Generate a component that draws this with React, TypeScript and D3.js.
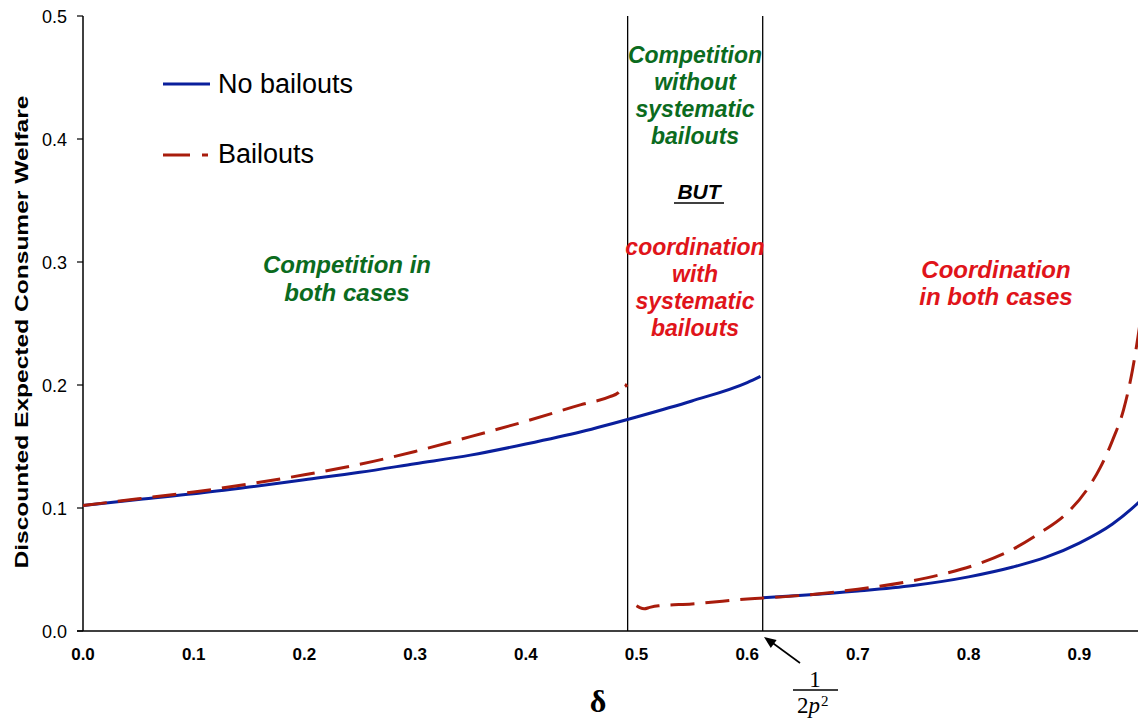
import React, { useRef, useEffect } from 'react';
import * as d3 from 'd3';

// values: [delta, welfare]
const noBailoutsLow: [number, number][] = [
  [0.0, 0.102], [0.05, 0.107], [0.1, 0.1115], [0.15, 0.117], [0.2, 0.123],
  [0.25, 0.129], [0.3, 0.136], [0.35, 0.143], [0.4, 0.152], [0.45, 0.162],
  [0.5, 0.174], [0.55, 0.187], [0.6, 0.202], [0.612, 0.207]
];
const noBailoutsHigh: [number, number][] = [
  [0.614, 0.027], [0.65, 0.029], [0.7, 0.0325], [0.75, 0.037], [0.8, 0.044],
  [0.84, 0.052], [0.87, 0.06], [0.9, 0.0715], [0.93, 0.087], [0.953, 0.104],
  [0.96, 0.11]
];
const bailoutsLow: [number, number][] = [
  [0.0, 0.102], [0.05, 0.1075], [0.1, 0.113], [0.15, 0.1195], [0.2, 0.127],
  [0.25, 0.1355], [0.3, 0.146], [0.35, 0.158], [0.4, 0.1705], [0.45, 0.184],
  [0.476, 0.1905], [0.484, 0.194], [0.489, 0.2008], [0.4915, 0.1985]
];
const bailoutsHigh: [number, number][] = [
  [0.5, 0.0205], [0.503, 0.019], [0.507, 0.018], [0.512, 0.0192], [0.52, 0.0205],
  [0.55, 0.022], [0.6, 0.026], [0.65, 0.029], [0.7, 0.034], [0.75, 0.041],
  [0.78, 0.047], [0.81, 0.055], [0.84, 0.0665], [0.865, 0.08], [0.889, 0.096],
  [0.907, 0.115], [0.919, 0.133], [0.93, 0.155], [0.94, 0.18], [0.948, 0.212],
  [0.953, 0.239], [0.958, 0.27]
];
const xTicks = [0, 0.1, 0.2, 0.3, 0.4, 0.5, 0.6, 0.7, 0.8, 0.9];
const yTicks = [0, 0.1, 0.2, 0.3, 0.4, 0.5];
const regimeLines = [0.492, 0.614];

const leftNote = ['Competition in', 'both cases'];
const middleTop = ['Competition', 'without', 'systematic', 'bailouts'];
const middleBottom = ['coordination', 'with', 'systematic', 'bailouts'];
const rightNote = ['Coordination', 'in both cases'];

const BLUE = '#0a1f9c';
const RED = '#a81c0c';
const GREEN = '#0b6b1e';
const TEXT_RED = '#e0141a';

export default function App() {
  const svgRef = useRef<SVGSVGElement>(null);

  useEffect(() => {
    if (!svgRef.current) return;
    const svg = d3.select(svgRef.current);
    svg.selectAll('*').remove();

    const W = 1138;
    const left = 83;
    const top = 16;
    const bottom = 631;
    const x = d3.scaleLinear().domain([0, 1]).range([left, left + 1107]);
    const y = d3.scaleLinear().domain([0, 0.5]).range([bottom, top]);

    svg.append('defs')
      .append('clipPath')
      .attr('id', 'plotclip')
      .append('rect')
      .attr('x', left)
      .attr('y', 0)
      .attr('width', W - left)
      .attr('height', bottom + 2);

    // axes
    svg.append('line')
      .attr('x1', left - 6).attr('x2', W)
      .attr('y1', bottom).attr('y2', bottom)
      .style('stroke', '#000').style('stroke-width', 1.5);
    svg.append('line')
      .attr('x1', left).attr('x2', left)
      .attr('y1', top).attr('y2', bottom)
      .style('stroke', '#000').style('stroke-width', 1.5);

    yTicks.forEach((t) => {
      svg.append('line')
        .attr('x1', left - 6).attr('x2', left)
        .attr('y1', y(t)).attr('y2', y(t))
        .style('stroke', '#000').style('stroke-width', 1.2);
      svg.append('text')
        .attr('x', 67).attr('y', y(t) + 7)
        .attr('text-anchor', 'end')
        .style('font-family', 'Liberation Sans, Arial, sans-serif')
        .style('font-size', '18px')
        .text(d3.format('.1f')(t));
    });

    xTicks.forEach((t) => {
      svg.append('text')
        .attr('x', x(t)).attr('y', 660)
        .attr('text-anchor', 'middle')
        .style('font-family', 'Liberation Sans, Arial, sans-serif')
        .style('font-weight', 'bold')
        .style('font-size', '17px')
        .text(d3.format('.1f')(t));
    });

    // y title
    svg.append('text')
      .attr('transform', 'translate(28,332) rotate(-90)')
      .attr('text-anchor', 'middle')
      .attr('textLength', 473)
      .attr('lengthAdjust', 'spacingAndGlyphs')
      .style('font-family', 'Liberation Sans, Arial, sans-serif')
      .style('font-weight', 'bold')
      .style('font-size', '19px')
      .text('Discounted Expected Consumer Welfare');

    // x title
    svg.append('text')
      .attr('x', 598).attr('y', 712)
      .attr('text-anchor', 'middle')
      .style('font-family', 'Liberation Serif, Times New Roman, serif')
      .style('font-weight', 'bold')
      .style('font-size', '32px')
      .text('δ');

    // regime boundaries
    regimeLines.forEach((d) => {
      svg.append('line')
        .attr('x1', x(d)).attr('x2', x(d))
        .attr('y1', top).attr('y2', bottom)
        .style('stroke', '#000').style('stroke-width', 1.3);
    });

    // curves
    const line = d3.line<[number, number]>()
      .x((d) => x(d[0]))
      .y((d) => y(d[1]))
      .curve(d3.curveMonotoneX);
    const g = svg.append('g').attr('clip-path', 'url(#plotclip)');

    [noBailoutsLow, noBailoutsHigh].forEach((seg) => {
      g.append('path')
        .attr('d', line(seg))
        .style('fill', 'none')
        .style('stroke', BLUE)
        .style('stroke-width', 3);
    });
    [bailoutsLow, bailoutsHigh].forEach((seg) => {
      g.append('path')
        .attr('d', line(seg))
        .style('fill', 'none')
        .style('stroke', RED)
        .style('stroke-width', 3)
        .style('stroke-dasharray', '24,11');
    });

    // legend
    svg.append('line')
      .attr('x1', 163).attr('x2', 210).attr('y1', 84).attr('y2', 84)
      .style('stroke', BLUE).style('stroke-width', 3);
    svg.append('line')
      .attr('x1', 163).attr('x2', 190).attr('y1', 155).attr('y2', 155)
      .style('stroke', RED).style('stroke-width', 3);
    svg.append('line')
      .attr('x1', 202).attr('x2', 208).attr('y1', 155).attr('y2', 155)
      .style('stroke', RED).style('stroke-width', 3);
    [['No bailouts', 93], ['Bailouts', 163]].forEach(([label, by]) => {
      svg.append('text')
        .attr('x', 218).attr('y', by as number)
        .style('font-family', 'Liberation Sans, Arial, sans-serif')
        .style('font-size', '27px')
        .text(label as string);
    });

    // annotations
    const note = (lines: string[], cx: number, y0: number, step: number, color: string, size: number) => {
      lines.forEach((s, i) => {
        svg.append('text')
          .attr('x', cx).attr('y', y0 + i * step)
          .attr('text-anchor', 'middle')
          .style('font-family', 'Liberation Sans, Arial, sans-serif')
          .style('font-weight', 'bold')
          .style('font-style', 'italic')
          .style('font-size', `${size}px`)
          .style('fill', color)
          .text(s);
      });
    };
    note(leftNote, 347, 273, 28, GREEN, 24);
    note(middleTop, 695, 63, 27, GREEN, 23);
    note(middleBottom, 695, 255, 27, TEXT_RED, 23);
    note(rightNote, 996, 278, 27, TEXT_RED, 24);

    svg.append('text')
      .attr('x', 699).attr('y', 199)
      .attr('text-anchor', 'middle')
      .style('font-family', 'Liberation Sans, Arial, sans-serif')
      .style('font-weight', 'bold')
      .style('font-style', 'italic')
      .style('font-size', '21px')
      .text('BUT');
    svg.append('line')
      .attr('x1', 674).attr('x2', 724).attr('y1', 203).attr('y2', 203)
      .style('stroke', '#000').style('stroke-width', 1.5);

    // arrow to 1/(2p^2)
    svg.append('line')
      .attr('x1', 800).attr('y1', 663).attr('x2', 770).attr('y2', 641)
      .style('stroke', '#000').style('stroke-width', 1.6);
    const tip = [764, 637];
    const ang = Math.atan2(663 - 637, 800 - 764);
    const hl = 12;
    const hw = 5;
    const bx = tip[0] + hl * Math.cos(ang);
    const by = tip[1] + hl * Math.sin(ang);
    svg.append('path')
      .attr('d', `M${tip[0]},${tip[1]} L${bx - hw * Math.sin(ang)},${by + hw * Math.cos(ang)} L${bx + hw * Math.sin(ang)},${by - hw * Math.cos(ang)} Z`)
      .style('fill', '#000');

    const serif = 'Liberation Serif, Times New Roman, serif';
    svg.append('text')
      .attr('x', 815).attr('y', 687)
      .attr('text-anchor', 'middle')
      .style('font-family', serif).style('font-size', '23px')
      .text('1');
    svg.append('line')
      .attr('x1', 793).attr('x2', 838).attr('y1', 690).attr('y2', 690)
      .style('stroke', '#000').style('stroke-width', 1.3);
    const den = svg.append('text')
      .attr('x', 797).attr('y', 713)
      .style('font-family', serif).style('font-size', '23px');
    den.append('tspan').text('2');
    den.append('tspan').style('font-style', 'italic').text('p');
    den.append('tspan').attr('dx', 1).attr('dy', -7).style('font-size', '15px').text('2');
  }, []);

  return (
    <svg
      ref={svgRef}
      width={1138}
      height={725}
      style={{ position: 'absolute', left: 0, top: 0, background: '#fff' }}
    />
  );
}
